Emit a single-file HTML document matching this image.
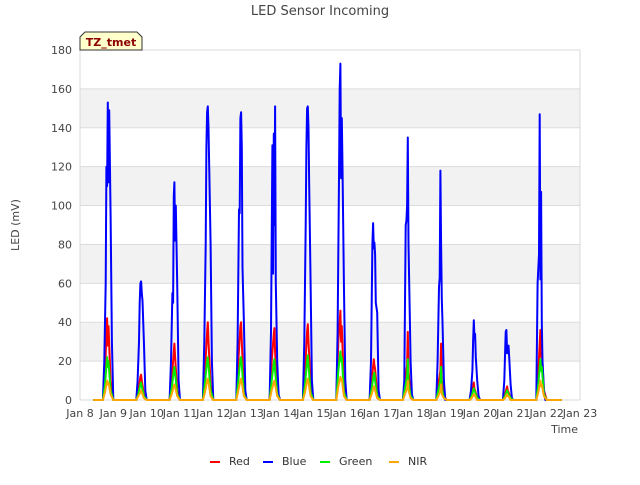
<!DOCTYPE html>
<html><head><meta charset="utf-8"><style>
body{margin:0;background:#fff;font-family:"Liberation Sans","DejaVu Sans",sans-serif}
svg text{font-family:"DejaVu Sans","Liberation Sans",sans-serif}
</style></head><body>
<svg id="chart" width="640" height="480">
<rect x="0" y="0" width="640" height="480" fill="#fff"/>
<g id="grid"></g>
<g id="series"></g>
<g id="axes"></g>
<text x="320" y="15" text-anchor="middle" font-size="13" fill="#444">LED Sensor Incoming</text>
<text transform="translate(19,225) rotate(-90)" text-anchor="middle" font-size="11" fill="#444">LED (mV)</text>
<text x="578" y="433" text-anchor="end" font-size="11" fill="#444">Time</text>
<g>
<path d="M80,50 L80,37 L85,32 L137,32 L142,37 L142,50 Z" fill="#ffffcc" stroke="#333" stroke-width="1"/>
<text x="111" y="46" text-anchor="middle" font-size="11" font-weight="bold" fill="#8b0000">TZ_tmet</text>
</g>
<g id="legend"></g>
</svg>
<script>
const yTicks=[0,20,40,60,80,100,120,140,160,180];
const xTickLabels=["Jan 8","Jan 9","Jan 10","Jan 11","Jan 12","Jan 13","Jan 14","Jan 15","Jan 16","Jan 17","Jan 18","Jan 19","Jan 20","Jan 21","Jan 22","Jan 23"];
const blueHours=[16.5,17.5,18.5,19,19.5,20,20.5,21,22,23,24];
const rgbHours=[16.5,18,19.5,20,20.5,22,24];
const blueDays=[
[0,20,60,120,110,153,112,149,95,30,0],
[0,10,30,50,60,61,55,51,30,5,0],
[0,20,55,50,105,112,82,100,60,10,0],
[0,30,80,130,148,151,140,120,80,20,0],
[0,30,98,96,145,148,130,68,40,5,0],
[0,35,131,65,137,90,151,60,20,3,0],
[0,30,90,130,150,151,140,110,60,10,0],
[0,35,114,160,173,114,145,120,60,10,0],
[0,20,80,91,78,81,75,50,45,5,0],
[0,10,90,92,100,135,80,60,20,3,0],
[0,20,58,63,118,80,52,40,10,0,0],
[0,5,15,30,41,33,34,22,10,2,0],
[0,10,35,36,24,26,28,22,8,1,0],
[0,60,75,147,62,107,40,20,5,0,0]];
const redDays=[
[0,15,42,28,38,10,0],[0,5,12,13,10,3,0],[0,10,25,29,22,5,0],[0,15,35,40,30,8,0],
[0,20,38,40,30,5,0],[0,20,34,37,25,5,0],[0,15,35,39,30,8,0],[0,30,46,30,38,8,0],
[0,10,21,18,16,3,0],[0,10,18,35,15,3,0],[0,8,15,29,10,2,0],[0,3,9,6,5,1,0],
[0,3,7,5,4,1,0],[0,15,36,22,26,5,0]];
const greenDays=[
[0,8,22,17,20,5,0],[0,3,8,9,7,2,0],[0,6,15,17,14,3,0],[0,9,20,22,18,5,0],
[0,10,21,22,18,3,0],[0,10,19,21,15,3,0],[0,8,20,23,18,4,0],[0,15,25,20,22,4,0],
[0,6,13,14,10,2,0],[0,6,12,21,9,2,0],[0,5,10,17,6,1,0],[0,2,6,5,4,1,0],
[0,2,5,4,3,1,0],[0,8,21,15,17,3,0]];
const nirDays=[
[0,4,10,8,9,3,0],[0,2,4,5,4,1,0],[0,3,7,8,7,2,0],[0,4,10,11,9,2,0],
[0,5,10,11,9,2,0],[0,5,9,10,8,2,0],[0,4,10,11,9,2,0],[0,7,12,10,11,2,0],
[0,3,7,7,5,1,0],[0,3,6,10,5,1,0],[0,2,5,8,3,1,0],[0,1,3,3,2,0,0],
[0,1,3,2,2,0,0],[0,4,10,7,8,2,0]];
const seriesNames=["Red","Blue","Green","NIR"];
const seriesColors=["#ff0000","#0000ff","#00ee00","#ffa500"];
const startDay=0.4, endDay=14.45;

const X0=80,X1=580,Y0=400,Y1=50;
const xS=d=>X0+d*(X1-X0)/15;
const yS=v=>Y0-v*(Y0-Y1)/180;
const NS="http://www.w3.org/2000/svg";
function mk(t,a,p){const e=document.createElementNS(NS,t);for(const k in a)e.setAttribute(k,a[k]);p.appendChild(e);return e;}
const grid=document.getElementById('grid'),axes=document.getElementById('axes'),ser=document.getElementById('series'),leg=document.getElementById('legend');
for(let i=1;i<yTicks.length;i+=2){
 const r=mk('rect',{x:X0,y:yS(yTicks[i+1]!==undefined?yTicks[i+1]:yTicks[i]),width:X1-X0,height:yS(yTicks[i])-yS(yTicks[i+1]!==undefined?yTicks[i+1]:yTicks[i]),fill:'#f2f2f2'},grid);
 
 
}
yTicks.forEach(v=>{
 const l=mk('line',{x1:X0,x2:X1,y1:yS(v),y2:yS(v),stroke:'#dcdcdc','stroke-width':1},grid);
 
 
 const t=mk('text',{x:X0-8,y:yS(v)+4,'text-anchor':'end','font-size':11,fill:'#444'},axes);
 
 
 t.textContent=v;
});
mk('rect',{x:X0,y:Y1,width:X1-X0,height:Y0-Y1,fill:'none',stroke:'#d8d8d8'},grid);
xTickLabels.forEach((s,i)=>{
 const t=mk('text',{x:xS(i),y:417,'text-anchor':'middle','font-size':11,fill:'#444'},axes);
 
 
 t.textContent=s;
});
function build(days,hours){
 const pts=[[startDay,0]];
 days.forEach((vals,d)=>vals.forEach((v,j)=>pts.push([d+hours[j]/24,v])));
 pts.push([endDay,0]);
 return pts.map(p=>xS(p[0]).toFixed(1)+','+yS(p[1]).toFixed(1)).join(' ');
}
const data=[[redDays,rgbHours],[blueDays,blueHours],[greenDays,rgbHours],[nirDays,rgbHours]];
data.forEach((d,i)=>{
 const p=mk('polyline',{points:build(d[0],d[1]),fill:'none',stroke:seriesColors[i],'stroke-width':2,'stroke-linejoin':'round'},ser);
 
 
});
const legX=[210,263,320,389];
seriesNames.forEach((n,i)=>{
 const g=mk('g',{},leg);
 
 
 mk('line',{x1:legX[i],x2:legX[i]+10,y1:462,y2:462,stroke:seriesColors[i],'stroke-width':2},g);
 const t=mk('text',{x:legX[i]+19,y:465,'font-size':11,fill:'#333'},g);
 t.textContent=n;
});
</script>
</body></html>
